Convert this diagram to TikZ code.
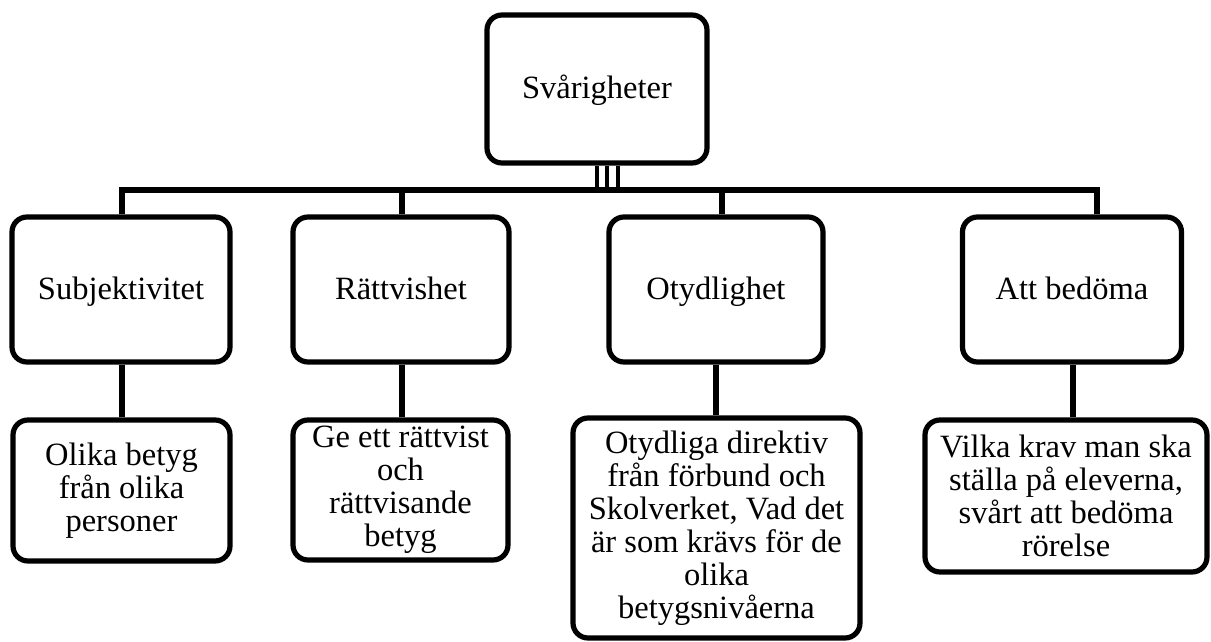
\documentclass[tikz,border=0pt]{standalone}
\usepackage{fontspec}
\setmainfont{Liberation Serif}
\begin{document}
\begin{tikzpicture}[x=1pt,y=-1pt,
  box/.style={draw=black, line width=5.2pt, rounded corners=15pt, fill=white,
    inner sep=0pt, align=center,
    font=\fontsize{32.5}{33}\selectfont},
  oneline/.style={text height=23pt, text depth=3pt},
  conn/.style={draw=black, line width=5.2pt}]
\useasboundingbox (0,0) rectangle (1211,642);
% top
\node[box, oneline, minimum width=220pt, minimum height=148pt] (top) at (597,89) {Sv\aa righeter};
% level 1
\node[box, oneline, minimum width=218pt, minimum height=145pt] (s1) at (121,289.5) {Subjektivitet};
\node[box, oneline, minimum width=216pt, minimum height=145pt] (s2) at (401,289.5) {R\"attvishet};
\node[box, oneline, minimum width=214pt, minimum height=145pt] (s3) at (716,289.5) {Otydlighet};
\node[box, oneline, minimum width=219pt, minimum height=145pt] (s4) at (1072,289.5) {Att bed\"oma};
% level 2
\node[box, minimum width=217pt, minimum height=141pt] (c1) at (121.5,490.5) {Olika betyg\\fr\aa n olika\\personer};
\node[box, minimum width=215pt, minimum height=140pt] (c2) at (400.5,490) {Ge ett r\"attvist\\och\\r\"attvisande\\betyg};
\node[box, minimum width=287pt, minimum height=220pt] (c3) at (716.5,528) {Otydliga direktiv\\fr\aa n f\"orbund och\\Skolverket, Vad det\\\"ar som kr\"avs f\"or de\\olika\\betygsniv\aa erna};
\node[box, minimum width=282pt, minimum height=152pt] (c4) at (1066,496) {Vilka krav man ska\\st\"alla p\aa{} eleverna,\\sv\aa rt att bed\"oma\\r\"orelse};
% junctions on the bar
\coordinate (j1) at (122,190);
\coordinate (j2) at (402,190);
\coordinate (j3) at (722,190);
\coordinate (j4) at (1097,190);
% bar and drops
\draw[conn] (j1 |- s1.north) -- (j1) -- (j4) -- (j4 |- s4.north);
\draw[conn] (j2) -- (j2 |- s2.north);
\draw[conn] (j3) -- (j3 |- s3.north);
% triple stem from top box
\foreach \dx in {0,10,21} {
  \draw[conn, line width=4.5pt] ([xshift=\dx pt]top.south) -- ([xshift=\dx pt]top.south |- j1);
}
% level 1 to level 2
\draw[conn] ([xshift=1pt]s1.south) -- ([xshift=1pt]s1.south |- c1.north);
\draw[conn] ([xshift=1pt]s2.south) -- ([xshift=1pt]s2.south |- c2.north);
\draw[conn] (s3.south) -- (s3.south |- c3.north);
\draw[conn] ([xshift=1pt]s4.south) -- ([xshift=1pt]s4.south |- c4.north);
\end{tikzpicture}
\end{document}
